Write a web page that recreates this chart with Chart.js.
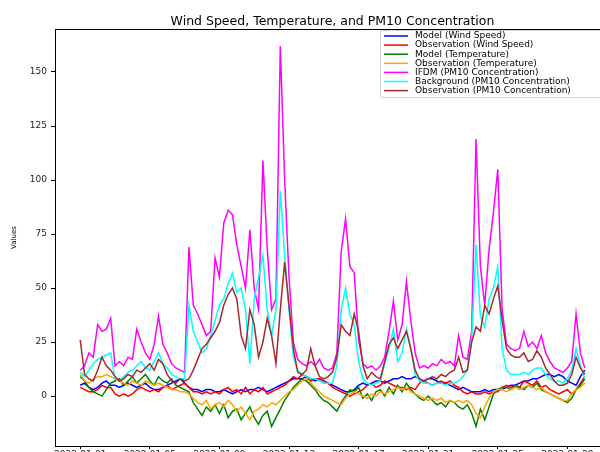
<!DOCTYPE html>
<html>
<head>
<meta charset="utf-8">
<script src="https://cdn.jsdelivr.net/npm/chart.js@4"></script>
<style>
  html, body { margin: 0; padding: 0; background: #fff; overflow: hidden; width: 600px; height: 452px; }
  #wrap { width: 620px; height: 470px; }
</style>
</head>
<body>
<div id="wrap"><canvas id="c" width="620" height="470"></canvas></div>
<script>
// ---- data (6-hourly samples starting 2022-01-01 00:00) ----
const startDate = '2022-01-01';
const stepHours = 6;
const chartTitle = 'Wind Speed, Temperature, and PM10 Concentration';
const yAxisLabel = 'Values';

const seriesNames = [
  'Model (Wind Speed)',
  'Observation (Wind Speed)',
  'Model (Temperature)',
  'Observation (Temperature)',
  'IFDM (PM10 Concentration)',
  'Background (PM10 Concentration)',
  'Observation (PM10 Concentration)'
];
const seriesColors = ['#0000ff', '#ff0000', '#008000', '#ffa500', '#ff00ff', '#00ffff', '#a52a2a'];

const modelWind = [5,6,4,3,4,6,7,5,5,4,5,6,5,4,5,6,4,3,3,4,5,6,7,8,6,4,3,3,2,3,3,2,2,3,2,1,2,3,2,3,3,4,3,2,3,4,5,6,7,8,8,8,9,8,7,8,7,6,5,4,3,2,2,3,5,6,5,6,7,7,6,7,8,8,9,8,8,9,8,7,8,8,7,6,6,5,4,3,4,3,2,2,2,3,2,3,3,3,4,5,5,6,7,7,8,8,9,10,10,9,10,9,7,6,5,9,12];
const obsWind = [4,3,2,2,3,5,4,4,1,0,1,0,1,3,4,3,2,3,2,4,5,3,4,5,6,4,2,2,1,2,1,2,1,3,4,2,3,1,4,1,3,2,4,1,2,3,4,5,7,9,8,10,9,7,8,8,7,6,4,3,2,1,0,1,2,3,5,6,4,5,7,6,5,4,4,3,4,3,6,7,6,5,6,7,6,7,5,4,2,1,2,1,1,2,1,2,2,4,5,4,5,4,7,6,5,7,4,5,3,2,1,2,3,1,3,6,9];
const modelTemp = [9,7,4,2,1,0,3,6,7,8,5,7,9,6,8,10,7,5,9,7,6,8,5,4,3,2,-3,-6,-9,-5,-7,-4,-8,-4,-10,-7,-6,-11,-8,-5,-10,-13,-9,-7,-14,-10,-6,-2,1,4,6,8,7,5,3,0,-2,-3,-5,-7,-3,0,3,2,4,-1,1,-2,2,3,0,4,1,5,2,6,3,1,-1,-2,0,-2,-4,-3,-5,-2,-3,-5,-6,-4,-8,-14,-6,-11,-5,1,3,4,4,3,5,4,3,5,4,6,3,2,1,0,-1,-2,-3,-1,3,5,8];
const obsTemp = [10,7,6,8,9,9,10,9,8,7,6,5,7,6,5,7,6,5,6,5,4,3,3,2,2,1,-1,-3,-4,-2,-6,-4,-3,-5,-2,-4,-7,-5,-8,-11,-7,-6,-4,-5,-3,-4,-2,0,2,3,5,7,8,6,4,2,0,-1,-2,-3,-4,-1,1,2,1,0,-1,1,0,2,1,2,3,4,3,4,2,1,0,-1,-2,-1,-2,-1,-3,-2,-3,-2,-3,-2,-4,-8,-10,-5,-1,2,3,3,2,3,4,3,4,5,4,3,4,2,1,0,-1,-2,-2,1,3,4,6];
const ifdmPM10 = [12,14,20,18,33,30,31,36,14,16,14,18,17,31,25,20,17,24,37,24,20,15,13,12,11,69,42,38,33,28,30,64,55,80,86,84,70,60,50,77,50,40,109,68,40,45,162,100,55,25,17,15,14,16,14,17,13,12,13,20,67,82,60,57,26,15,13,14,12,14,18,30,44,26,33,53,35,20,13,14,13,15,14,17,15,16,14,28,18,17,30,119,60,42,68,85,105,40,24,22,21,22,30,23,25,22,28,20,16,13,12,11,13,16,38,20,13];
const backgroundPM10 = [11,9,12,15,17,18,19,20,8,7,9,11,12,14,16,13,12,16,20,15,13,10,9,8,8,42,30,25,20,22,28,35,42,45,52,57,48,50,40,15,45,55,65,40,28,40,95,65,40,18,12,10,9,8,8,7,6,6,6,14,40,50,38,33,16,8,6,5,6,7,15,22,31,16,20,31,22,10,7,6,6,5,6,6,5,6,6,7,9,12,26,70,37,32,45,50,60,22,12,10,10,10,11,10,12,13,13,10,8,7,7,6,8,12,22,14,8];
const obsPM10 = [26,10,8,7,12,18,14,12,9,7,8,10,9,12,11,13,15,12,17,15,10,7,6,8,7,8,12,17,22,24,27,30,34,42,47,50,45,28,22,40,33,18,25,36,28,15,40,62,42,22,11,10,12,22,14,9,8,9,11,18,33,30,28,38,30,14,8,11,9,8,16,24,27,22,26,30,22,12,8,7,8,9,8,10,9,11,12,18,11,12,25,32,30,42,38,45,51,35,22,19,18,18,20,16,17,21,18,13,10,7,5,5,6,10,18,13,10];

const seriesValues = [modelWind, obsWind, modelTemp, obsTemp, ifdmPM10, backgroundPM10, obsPM10];

const xTickDays = [0, 4, 8, 12, 16, 20, 24, 28];
const xTickLabels = ['2022-01-01','2022-01-05','2022-01-09','2022-01-13','2022-01-17','2022-01-21','2022-01-25','2022-01-29'];
const yTicks = [0, 25, 50, 75, 100, 125, 150];

// ---- build chart ----
const FONT = 'DejaVu Sans';
const datasets = seriesNames.map((name, k) => ({
  label: name,
  data: seriesValues[k].map((v, i) => ({ x: i * stepHours / 24, y: v })),
  borderColor: seriesColors[k],
  backgroundColor: seriesColors[k],
  borderWidth: 1.5,
  pointRadius: 0,
  tension: 0,
  fill: false,
  order: seriesNames.length - k
}));

const framePlugin = {
  id: 'frame',
  afterDatasetsDraw(chart) {
    const a = chart.chartArea, ctx = chart.ctx;
    ctx.save();
    ctx.strokeStyle = '#000';
    ctx.lineWidth = 1;
    ctx.strokeRect(Math.round(a.left) + 0.5, Math.round(a.top) + 0.5, Math.round(a.right - a.left), Math.round(a.bottom - a.top));
    ctx.restore();
  }
};

const titlePlugin = {
  id: 'mplTitle',
  afterDraw(chart) {
    const a = chart.chartArea, ctx = chart.ctx;
    ctx.save();
    ctx.font = '12.5px "' + FONT + '"';
    ctx.fillStyle = '#000';
    ctx.textAlign = 'center';
    ctx.textBaseline = 'alphabetic';
    ctx.fillText(chartTitle, (a.left + a.right) / 2, 25);
    ctx.restore();
  }
};

const legendPlugin = {
  id: 'mplLegend',
  afterDraw(chart) {
    const ctx = chart.ctx;
    const x0 = 380, y0 = 30, w = 226, rowH = 9.1, h = 67;
    ctx.save();
    ctx.fillStyle = 'rgba(255,255,255,0.8)';
    ctx.strokeStyle = '#d0d0d0';
    ctx.lineWidth = 1;
    ctx.beginPath();
    ctx.roundRect(x0 + 0.5, y0 + 0.5, w, h, 2);
    ctx.fill();
    ctx.stroke();
    ctx.font = '9px "' + FONT + '"';
    ctx.textBaseline = 'middle';
    ctx.textAlign = 'left';
    seriesNames.forEach((name, k) => {
      const y = y0 + 6 + k * rowH;
      ctx.strokeStyle = seriesColors[k];
      ctx.lineWidth = 1.5;
      ctx.beginPath();
      ctx.moveTo(x0 + 4, y);
      ctx.lineTo(x0 + 28, y);
      ctx.stroke();
      ctx.fillStyle = '#000';
      ctx.fillText(name, x0 + 35, y);
    });
    ctx.restore();
  }
};

new Chart(document.getElementById('c'), {
  type: 'line',
  data: { datasets },
  plugins: [framePlugin, titlePlugin, legendPlugin],
  options: {
    responsive: false,
    animation: false,
    devicePixelRatio: 1,
    layout: { padding: { left: 0, right: 10, top: 29, bottom: 0 } },
    plugins: {
      legend: { display: false },
      tooltip: { enabled: false },
      title: { display: false }
    },
    scales: {
      x: {
        type: 'linear',
        min: -1.45,
        max: 30.45,
        afterFit(s) { s.height = 24; },
        afterBuildTicks(s) { s.ticks = xTickDays.map(v => ({ value: v })); },
        grid: { drawOnChartArea: false, drawTicks: true, tickLength: 3, color: '#000' },
        border: { display: true, color: '#000' },
        ticks: {
          color: '#222',
          font: { family: FONT, size: 9 },
          padding: 0,
          maxRotation: 0,
          autoSkip: false,
          callback(v) { const i = xTickDays.indexOf(v); return i >= 0 ? xTickLabels[i] : ''; }
        }
      },
      y: {
        type: 'linear',
        min: -23.1,
        max: 169.9,
        afterFit(s) { s.width = 55; },
        afterBuildTicks(s) { s.ticks = yTicks.map(v => ({ value: v })); },
        grid: { drawOnChartArea: false, drawTicks: true, tickLength: 4, color: '#000' },
        border: { display: true, color: '#000' },
        title: {
          display: true,
          text: yAxisLabel,
          color: '#000',
          font: { family: FONT, size: 7 },
          padding: { top: 10, bottom: 0 }
        },
        ticks: {
          color: '#222',
          font: { family: FONT, size: 9 },
          padding: 4,
          callback(v) { return String(v); }
        }
      }
    }
  }
});
</script>
</body>
</html>
